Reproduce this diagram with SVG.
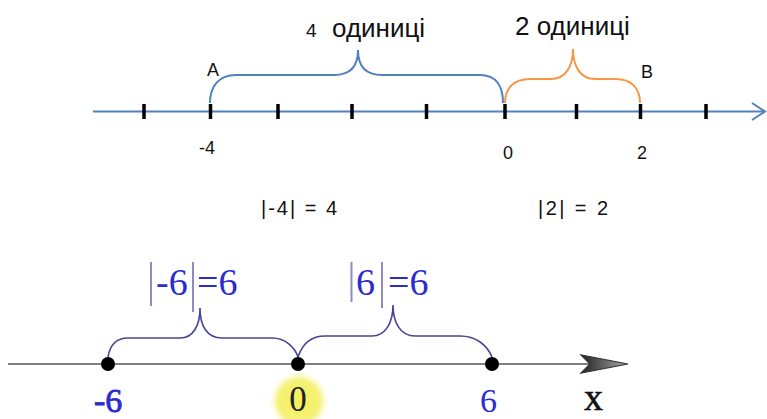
<svg xmlns="http://www.w3.org/2000/svg" width="767" height="419" viewBox="0 0 767 419">
<style>
.sans{font-family:"Liberation Sans",Arial,sans-serif;fill:#111}
.serif{font-family:"Liberation Serif","Times New Roman",serif}
.tick{stroke:#000;stroke-width:3.5}
.blueBrace{fill:none;stroke:#4f81bd;stroke-width:2}
.orangeBrace{fill:none;stroke:#f79646;stroke-width:2}
.purpleBrace{fill:none;stroke:#45459a;stroke-width:1.6}
.bar{stroke:#8c8cc0;stroke-width:2}
.blueTxt{fill:#2b2bd0}
.dot{fill:#000}
</style>
<defs>
<radialGradient id="glow" cx="0.5" cy="0.5" r="0.5">
<stop offset="0" stop-color="#f3ef5a"/>
<stop offset="0.7" stop-color="#f5f27a"/>
<stop offset="1" stop-color="#fbfad0" stop-opacity="0"/>
</radialGradient>
<linearGradient id="arrowFill" x1="0" y1="0" x2="1" y2="0">
<stop offset="0" stop-color="#222"/>
<stop offset="1" stop-color="#aaa"/>
</linearGradient>
</defs>

<g id="connectors">
<line x1="93" y1="111.5" x2="764" y2="111.5" stroke="#4f81bd" stroke-width="2"/>
<polyline points="752,103 765,111.5 752,120" fill="none" stroke="#4f81bd" stroke-width="2"/>
<path class="blueBrace" d="M210,103 C210,86 219,75 236,75 L334,75 C350,75 358,66 358,50 C358,66 366,75 382,75 L480,75 C496,75 503,86 503,103"/>
<path class="orangeBrace" d="M505,103 C505,88 514,79 530,79 L551,79 C566,79 573,66 573,49 C573,66 580,79 595,79 L616,79 C631,79 640,88 640,103"/>
<line x1="8" y1="364" x2="590" y2="364" stroke="#808080" stroke-width="2"/>
<path d="M628,364 L581,355 L590,364 L581,373 Z" fill="url(#arrowFill)" stroke="#333" stroke-width="1.2"/>
<path class="purpleBrace" d="M108,357 C110,345 116,338 128,338 L180,338 C193,338 200,326 200,308 C200,326 207,338 222,338 L272,338 C286,338 295,348 298,357"/>
<path class="purpleBrace" d="M298,357 C302,345 310,336 325,336 L372,336 C386,336 393,322 393,305 C393,322 400,336 415,336 L460,336 C476,336 487,345 492,357"/>
</g>

<g id="top-ticks">
<line class="tick" x1="144" y1="104" x2="144" y2="119"/>
<line class="tick" x1="210.5" y1="104" x2="210.5" y2="119"/>
<line class="tick" x1="278" y1="104" x2="278" y2="119"/>
<line class="tick" x1="352" y1="104" x2="352" y2="119"/>
<line class="tick" x1="426.5" y1="104" x2="426.5" y2="119"/>
<line class="tick" x1="505" y1="104" x2="505" y2="119"/>
<line class="tick" x1="576.5" y1="104" x2="576.5" y2="119"/>
<line class="tick" x1="640.5" y1="104" x2="640.5" y2="119"/>
<line class="tick" x1="706" y1="104" x2="706" y2="119"/>
</g>

<g id="label-4-units">
<text class="sans" x="306" y="37" font-size="19">4</text>
<text class="sans" x="332" y="37" font-size="26">одиниці</text>
</g>
<g id="label-2-units">
<text class="sans" x="515" y="35" font-size="26">2 одиниці</text>
</g>
<g id="point-A"><text class="sans" x="207" y="76" font-size="18">A</text></g>
<g id="point-B"><text class="sans" x="641" y="78" font-size="18">B</text></g>
<g id="top-numbers">
<text class="sans" x="199" y="154" font-size="18">-4</text>
<text class="sans" x="503" y="159" font-size="18">0</text>
<text class="sans" x="637" y="159" font-size="18">2</text>
</g>
<g id="abs-top">
<text class="sans" x="261" y="215" font-size="20" textLength="76" lengthAdjust="spacing">|-4| = 4</text>
<text class="sans" x="538" y="215" font-size="20" textLength="70" lengthAdjust="spacing">|2| = 2</text>
</g>

<g id="abs-neg6">
<line class="bar" x1="151" y1="262" x2="151" y2="306"/>
<line class="bar" x1="193" y1="262" x2="193" y2="312"/>
<text class="serif blueTxt" x="156" y="295" font-size="38">-6</text>
<text class="serif blueTxt" x="197" y="295" font-size="38">=6</text>
</g>
<g id="abs-6">
<line class="bar" x1="351.5" y1="262" x2="351.5" y2="302"/>
<line class="bar" x1="382" y1="262" x2="382" y2="308"/>
<text class="serif blueTxt" x="356" y="295" font-size="38">6</text>
<text class="serif blueTxt" x="388" y="295" font-size="38">=6</text>
</g>

<g id="point-neg6">
<circle class="dot" cx="108" cy="364" r="7"/>
<text class="serif blueTxt" x="94" y="412" font-size="34" stroke="#2b2bd0" stroke-width="0.8">-6</text>
</g>
<g id="point-0">
<circle cx="299" cy="401" r="30" fill="url(#glow)"/>
<circle class="dot" cx="298" cy="364" r="7"/>
<text class="serif" x="298" y="411" font-size="35" text-anchor="middle" fill="#222">0</text>
</g>
<g id="point-6">
<circle class="dot" cx="492" cy="364" r="7"/>
<text class="serif blueTxt" x="480" y="412" font-size="34">6</text>
</g>
<g id="axis-x">
<text class="serif" x="584" y="410" font-size="38" fill="#111" stroke="#111" stroke-width="0.6">x</text>
</g>
</svg>
